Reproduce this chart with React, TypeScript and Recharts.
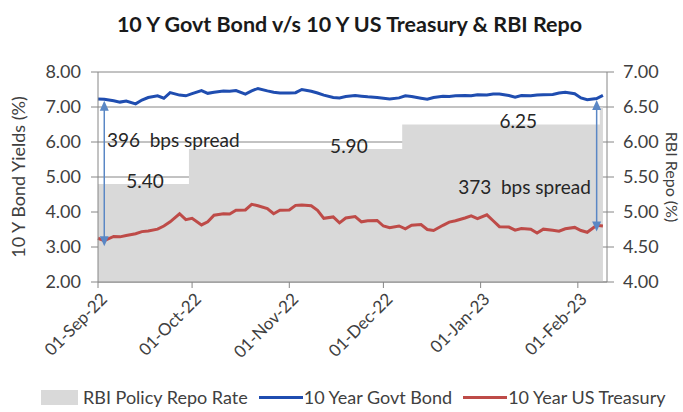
import React from "react";
import {
  Area,
  CartesianGrid,
  ComposedChart,
  Line,
  ReferenceDot,
  ReferenceLine,
  XAxis,
  YAxis,
} from "recharts";

// sampled dates for both bond series
const bondDates = [
  "2022-09-01", "2022-09-03", "2022-09-06", "2022-09-08", "2022-09-10", "2022-09-13",
  "2022-09-15", "2022-09-17", "2022-09-20", "2022-09-22", "2022-09-24", "2022-09-27",
  "2022-09-29", "2022-10-01", "2022-10-04", "2022-10-06", "2022-10-08", "2022-10-11",
  "2022-10-13", "2022-10-15", "2022-10-18", "2022-10-20", "2022-10-22", "2022-10-25",
  "2022-10-27", "2022-10-29", "2022-11-01", "2022-11-03", "2022-11-05", "2022-11-08",
  "2022-11-10", "2022-11-12", "2022-11-15", "2022-11-17", "2022-11-19", "2022-11-22",
  "2022-11-24", "2022-11-26", "2022-11-29", "2022-12-01", "2022-12-03", "2022-12-06",
  "2022-12-08", "2022-12-10", "2022-12-13", "2022-12-15", "2022-12-17", "2022-12-20",
  "2022-12-22", "2022-12-24", "2022-12-27", "2022-12-29", "2022-12-31", "2023-01-03",
  "2023-01-05", "2023-01-07", "2023-01-10", "2023-01-12", "2023-01-14", "2023-01-17",
  "2023-01-19", "2023-01-21", "2023-01-24", "2023-01-26", "2023-01-28", "2023-01-31",
  "2023-02-02", "2023-02-04", "2023-02-07", "2023-02-09",
];

const govtBond = [
  7.23, 7.22, 7.18, 7.14, 7.17, 7.09, 7.2, 7.27, 7.32, 7.25, 7.41, 7.34,
  7.32, 7.38, 7.47, 7.39, 7.42, 7.46, 7.45, 7.47, 7.37, 7.46, 7.53, 7.46,
  7.42, 7.4, 7.4, 7.41, 7.5, 7.45, 7.4, 7.34, 7.27, 7.26, 7.3, 7.33,
  7.31, 7.29, 7.27, 7.25, 7.23, 7.26, 7.32, 7.3, 7.25, 7.22, 7.27, 7.31,
  7.3, 7.32, 7.33, 7.32, 7.35, 7.34, 7.37, 7.37, 7.33, 7.28, 7.33, 7.32,
  7.34, 7.35, 7.36, 7.4, 7.42, 7.38, 7.26, 7.21, 7.24, 7.33,
];

const usTreasury = [
  3.25, 3.18, 3.3, 3.29, 3.33, 3.38, 3.44, 3.46, 3.51, 3.6, 3.72, 3.95,
  3.78, 3.82, 3.63, 3.72, 3.91, 3.95, 3.94, 4.05, 4.06, 4.22, 4.18, 4.1,
  3.95, 4.05, 4.06, 4.19, 4.2, 4.18, 4.05, 3.82, 3.86, 3.69, 3.83, 3.87,
  3.72, 3.75, 3.76, 3.6, 3.55, 3.6, 3.52, 3.62, 3.64, 3.5, 3.47, 3.62,
  3.71, 3.75, 3.83, 3.89, 3.81, 3.92, 3.75, 3.58, 3.57, 3.48, 3.53, 3.51,
  3.4, 3.51, 3.48, 3.45, 3.52, 3.56, 3.47, 3.42, 3.62, 3.6,
];

// RBI repo rate changes
const repoDates = ["2022-09-01", "2022-09-30", "2022-12-07", "2023-02-08", "2023-02-09"];
const repoRate = [5.4, 5.9, 6.25, 6.5, 6.5];

const tickDates = ["2022-09-01", "2022-10-01", "2022-11-01", "2022-12-01", "2023-01-01", "2023-02-01"];
const leftTicks = [2, 3, 4, 5, 6, 7, 8];
const rightTicks = [4, 4.5, 5, 5.5, 6, 6.5, 7];
const MONTHS = ["Jan", "Feb", "Mar", "Apr", "May", "Jun", "Jul", "Aug", "Sep", "Oct", "Nov", "Dec"];

const ts = (d: string) => Date.parse(d + "T00:00:00Z");
const DAY = 86400000;

const rowMap = new Map<number, any>();
const getRow = (t: number) => {
  if (!rowMap.has(t)) rowMap.set(t, { t });
  return rowMap.get(t);
};
bondDates.forEach((d, i) => {
  const r = getRow(ts(d));
  r.govt = govtBond[i];
  r.ust = usTreasury[i];
});
repoDates.forEach((d, i) => {
  getRow(ts(d)).repo = repoRate[i];
});
const rows = Array.from(rowMap.values()).sort((a, b) => a.t - b.t);

const FONT = "Lato, 'Open Sans', sans-serif";
const AXIS = "#868686";
const TXT = "#404040";

const fmtDate = (t: number) => {
  const d = new Date(t);
  const dd = String(d.getUTCDate()).padStart(2, "0");
  const yy = String(d.getUTCFullYear()).slice(2);
  return `${dd}-${MONTHS[d.getUTCMonth()]}-${yy}`;
};

const DateTick = (props: any) => {
  const { x, y, payload } = props;
  return (
    <g transform={`translate(${x + 6},${y + 6})`}>
      <text
        x={0}
        y={0}
        dy={6}
        textAnchor="end"
        transform="rotate(-45)"
        fill={TXT}
        fontSize={17}
        fontFamily={FONT}
      >
        {fmtDate(payload.value)}
      </text>
    </g>
  );
};

const Arrow = (props: any) => {
  const { x1, y1, x2, y2 } = props;
  const top = Math.min(y1, y2);
  const bot = Math.max(y1, y2);
  const c = "#5a87c5";
  return (
    <g>
      <line x1={x1} y1={top + 6} x2={x2} y2={bot - 6} stroke={c} strokeWidth={1.5} />
      <polygon points={`${x1},${top} ${x1 - 4.5},${top + 10} ${x1 + 4.5},${top + 10}`} fill={c} />
      <polygon points={`${x2},${bot} ${x2 - 4.5},${bot - 10} ${x2 + 4.5},${bot - 10}`} fill={c} />
    </g>
  );
};

const notes = [
  { d: "2022-09-25", v: 6.06, text: "396\u00A0 bps spread" },
  { d: "2022-09-16", v: 4.88, text: "5.40" },
  { d: "2022-11-20", v: 5.89, text: "5.90" },
  { d: "2023-01-13", v: 6.6, text: "6.25" },
  { d: "2023-01-15", v: 4.71, text: "373\u00A0 bps spread" },
];

const arrows = [
  { d: "2022-09-03", top: 7.18, bottom: 3.02 },
  { d: "2023-02-07", top: 7.2, bottom: 3.44 },
];

const legendItems = [
  { name: "RBI Policy Repo Rate", kind: "box", color: "#d9d9d9" },
  { name: "10 Year Govt Bond", kind: "line", color: "#1f4db0" },
  { name: "10 Year US Treasury", kind: "line", color: "#be4b48" },
];

export default function App() {
  const t0 = ts("2022-09-01");
  const tEnd = t0 + 162.3 * DAY;
  return (
    <div
      style={{
        position: "absolute",
        left: 0,
        top: 0,
        width: 683,
        height: 412,
        background: "#fff",
        fontFamily: FONT,
      }}
    >
      <div
        style={{
          position: "absolute",
          top: 10,
          left: 8,
          width: 683,
          textAlign: "center",
          fontWeight: 700,
          fontSize: 21.5,
          lineHeight: "28px",
          color: "#1a1a1a",
        }}
      >
        10 Y Govt Bond v/s 10 Y US Treasury &amp; RBI Repo
      </div>
      <ComposedChart
        width={683}
        height={412}
        data={rows}
        margin={{ top: 72, right: 0, bottom: 0, left: 0 }}
      >
        <CartesianGrid yAxisId="left" vertical={false} stroke={AXIS} />
        <XAxis
          dataKey="t"
          type="number"
          domain={[t0, tEnd]}
          ticks={tickDates.map(ts)}
          interval={0}
          height={130}
          stroke={AXIS}
          tickSize={6}
          tick={<DateTick />}
        />
        <YAxis
          yAxisId="left"
          domain={[2, 8]}
          ticks={leftTicks}
          width={98}
          stroke={AXIS}
          tickSize={7}
          tickMargin={10}
          tickFormatter={(v: number) => v.toFixed(2)}
          tick={{ fill: TXT, fontSize: 18, fontFamily: FONT }}
          label={{
            content: ({ viewBox }: any) => (
              <text
                x={viewBox.x + 18}
                y={viewBox.y + viewBox.height / 2}
                transform={`rotate(-90, ${viewBox.x + 18}, ${viewBox.y + viewBox.height / 2})`}
                textAnchor="middle"
                dominantBaseline="central"
                fill={TXT}
                fontSize={18}
                fontFamily={FONT}
              >
                10 Y Bond Yields (%)
              </text>
            ),
          }}
        />
        <YAxis
          yAxisId="right"
          orientation="right"
          domain={[4, 7]}
          ticks={rightTicks}
          width={76}
          stroke={AXIS}
          tickSize={7}
          tickMargin={9}
          tickFormatter={(v: number) => v.toFixed(2)}
          tick={{ fill: TXT, fontSize: 18, fontFamily: FONT }}
          label={{
            content: ({ viewBox }: any) => (
              <text
                x={viewBox.x + 65}
                y={viewBox.y + viewBox.height / 2}
                transform={`rotate(90, ${viewBox.x + 65}, ${viewBox.y + viewBox.height / 2})`}
                textAnchor="middle"
                dominantBaseline="central"
                fill={TXT}
                fontSize={16}
                fontFamily={FONT}
              >
                RBI Repo (%)
              </text>
            ),
          }}
        />
        <Area
          yAxisId="right"
          dataKey="repo"
          type="stepAfter"
          fill="#d9d9d9"
          fillOpacity={1}
          stroke="none"
          connectNulls
          isAnimationActive={false}
        />
        <Line
          yAxisId="left"
          dataKey="govt"
          stroke="#1f4db0"
          strokeWidth={3}
          dot={false}
          connectNulls
          isAnimationActive={false}
        />
        <Line
          yAxisId="left"
          dataKey="ust"
          stroke="#be4b48"
          strokeWidth={3}
          dot={false}
          connectNulls
          isAnimationActive={false}
        />
        {arrows.map((a) => (
          <ReferenceLine
            key={a.d}
            yAxisId="left"
            segment={[
              { x: ts(a.d), y: a.top },
              { x: ts(a.d), y: a.bottom },
            ]}
            shape={<Arrow />}
          />
        ))}
        {notes.map((n) => (
          <ReferenceDot
            key={n.text}
            yAxisId="left"
            x={ts(n.d)}
            y={n.v}
            r={0}
            fill="none"
            stroke="none"
            label={{
              value: n.text,
              position: "center",
              fill: "#262626",
              fontSize: 19,
              fontFamily: FONT,
            }}
          />
        ))}
      </ComposedChart>
      <div
        style={{
          position: "absolute",
          top: 386,
          left: 41,
          display: "flex",
          alignItems: "center",
          fontSize: 18,
          lineHeight: "22px",
          color: TXT,
          whiteSpace: "nowrap",
        }}
      >
        {legendItems.map((it) => (
          <div key={it.name} style={{ display: "flex", alignItems: "center", marginRight: 11 }}>
            {it.kind === "box" ? (
              <span style={{ width: 37, height: 15, background: it.color, marginRight: 5 }} />
            ) : (
              <span style={{ width: 44, height: 3, background: it.color, marginRight: 1 }} />
            )}
            <span>{it.name}</span>
          </div>
        ))}
      </div>
    </div>
  );
}
